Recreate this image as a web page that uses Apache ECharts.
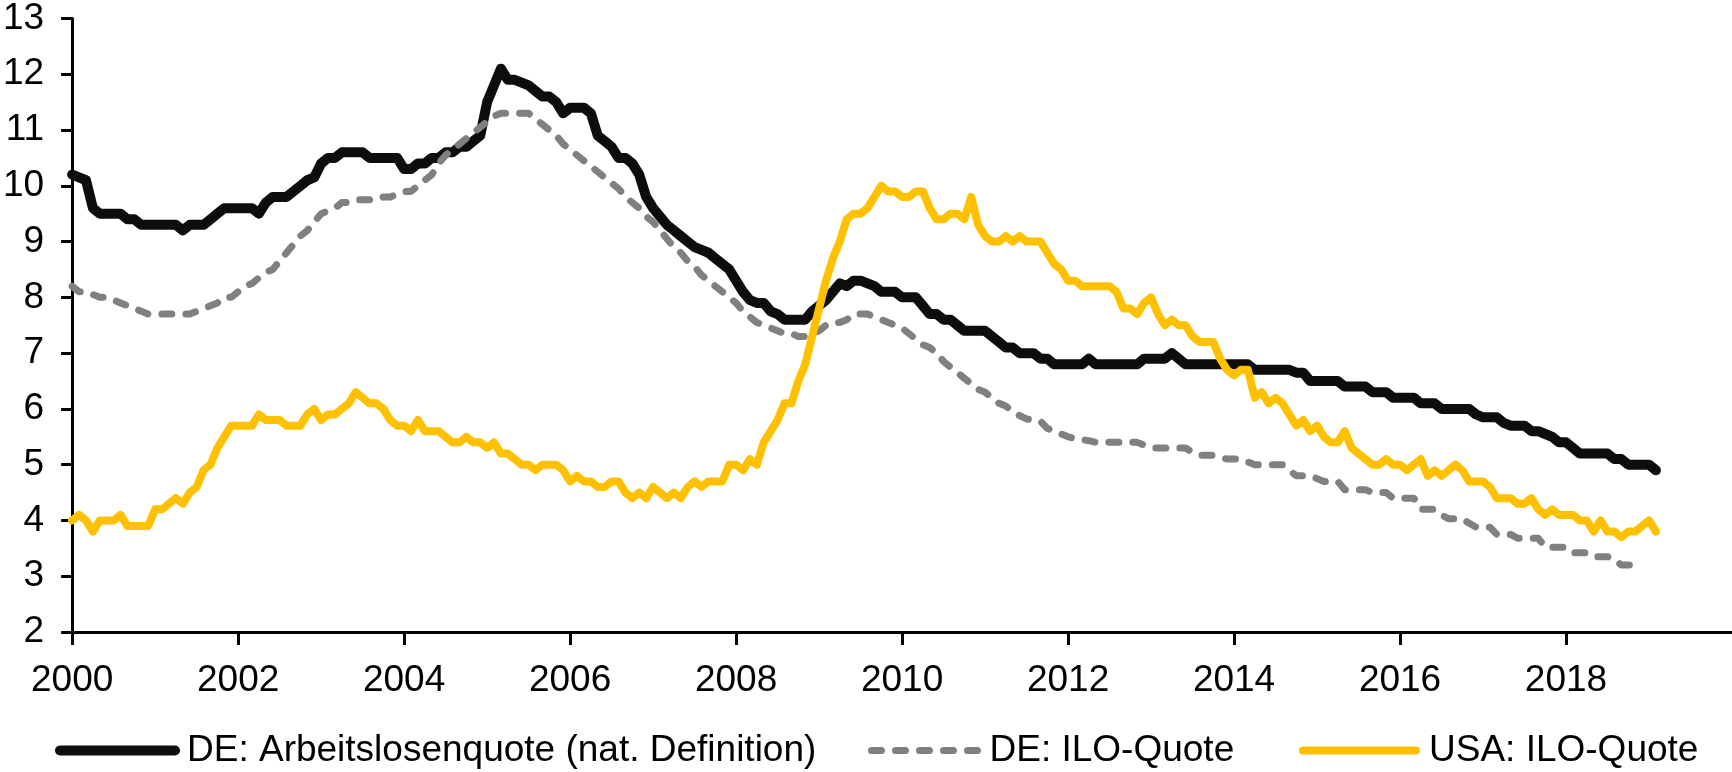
<!DOCTYPE html>
<html>
<head>
<meta charset="utf-8">
<title>Arbeitslosenquote DE / USA</title>
<script src="https://cdn.jsdelivr.net/npm/echarts@6/dist/echarts.min.js"></script>
<style>
  html, body { margin: 0; padding: 0; background: #fff; }
  #chart { width: 1732px; height: 772px; }
</style>
</head>
<body>
<div id="chart"></div>
<script>
// monthly values, starting January 2000
var startYear = 2000;

var deNational = [
  10.2, 10.15, 10.1, 9.6, 9.5, 9.5, 9.5, 9.5, 9.4, 9.4, 9.3, 9.3,
  9.3, 9.3, 9.3, 9.3, 9.2, 9.3, 9.3, 9.3, 9.4, 9.5, 9.6, 9.6,
  9.6, 9.6, 9.6, 9.5, 9.7, 9.8, 9.8, 9.8, 9.9, 10.0, 10.1, 10.15,
  10.4, 10.5, 10.5, 10.6, 10.6, 10.6, 10.6, 10.5, 10.5, 10.5, 10.5, 10.5,
  10.3, 10.3, 10.4, 10.4, 10.5, 10.5, 10.6, 10.6, 10.7, 10.7, 10.8, 10.9,
  11.5, 11.8, 12.1, 11.9, 11.9, 11.85, 11.8, 11.7, 11.6, 11.6, 11.5, 11.3,
  11.4, 11.4, 11.4, 11.3, 10.9, 10.8, 10.7, 10.5, 10.5, 10.4, 10.2, 9.8,
  9.6, 9.45, 9.3, 9.2, 9.1, 9.0, 8.9, 8.85, 8.8, 8.7, 8.6, 8.5,
  8.3, 8.1, 7.95, 7.9, 7.9, 7.75, 7.7, 7.6, 7.6, 7.6, 7.6, 7.75,
  7.85, 7.95, 8.1, 8.25, 8.2, 8.3, 8.3, 8.25, 8.2, 8.1, 8.1, 8.1,
  8.0, 8.0, 8.0, 7.85, 7.7, 7.7, 7.6, 7.6, 7.5, 7.4, 7.4, 7.4,
  7.4, 7.3, 7.2, 7.1, 7.1, 7.0, 7.0, 7.0, 6.9, 6.9, 6.8, 6.8,
  6.8, 6.8, 6.8, 6.9, 6.8, 6.8, 6.8, 6.8, 6.8, 6.8, 6.8, 6.9,
  6.9, 6.9, 6.9, 7.0, 6.9, 6.8, 6.8, 6.8, 6.8, 6.8, 6.8, 6.8,
  6.8, 6.8, 6.8, 6.7, 6.7, 6.7, 6.7, 6.7, 6.7, 6.65, 6.65, 6.5,
  6.5, 6.5, 6.5, 6.5, 6.4, 6.4, 6.4, 6.4, 6.3, 6.3, 6.3, 6.2,
  6.2, 6.2, 6.2, 6.1, 6.1, 6.1, 6.0, 6.0, 6.0, 6.0, 6.0, 5.9,
  5.85, 5.85, 5.85, 5.75, 5.7, 5.7, 5.7, 5.6, 5.6, 5.55, 5.5, 5.4,
  5.4, 5.3, 5.2, 5.2, 5.2, 5.2, 5.2, 5.1, 5.1, 5.0, 5.0, 5.0,
  5.0, 4.9
];

var deIlo = [
  8.2, 8.1, 8.1, 8.05, 8.0, 8.0, 7.95, 7.9, 7.85, 7.8, 7.75, 7.7,
  7.7, 7.7, 7.7, 7.7, 7.7, 7.7, 7.75, 7.8, 7.85, 7.9, 8.0, 8.0,
  8.1, 8.2, 8.25, 8.35, 8.45, 8.5, 8.65, 8.8, 8.95, 9.1, 9.2, 9.35,
  9.5, 9.55, 9.6, 9.7, 9.7, 9.75, 9.75, 9.75, 9.75, 9.8, 9.8, 9.85,
  9.9, 9.9, 10.0, 10.1, 10.2, 10.4, 10.55, 10.65, 10.75, 10.85, 10.95, 11.05,
  11.15, 11.25, 11.3, 11.3, 11.3, 11.3, 11.3, 11.2, 11.1, 11.0, 10.9, 10.75,
  10.65, 10.55, 10.45, 10.35, 10.25, 10.15, 10.05, 9.95, 9.8, 9.7, 9.6, 9.45,
  9.35, 9.2, 9.05, 8.9, 8.8, 8.65, 8.55, 8.4, 8.3, 8.2, 8.1, 8.0,
  7.9, 7.75, 7.65, 7.55, 7.5, 7.45, 7.4, 7.35, 7.35, 7.3, 7.3, 7.35,
  7.4, 7.5, 7.55, 7.55, 7.6, 7.7, 7.7, 7.7, 7.65, 7.6, 7.55, 7.5,
  7.45, 7.35, 7.25, 7.15, 7.1, 7.0, 6.85, 6.75, 6.65, 6.55, 6.45, 6.35,
  6.3, 6.2, 6.1, 6.05, 5.95, 5.88, 5.82, 5.8, 5.78, 5.65, 5.6, 5.55,
  5.5, 5.47, 5.45, 5.43, 5.4, 5.4, 5.4, 5.4, 5.4, 5.4, 5.4, 5.35,
  5.3, 5.3, 5.3, 5.3, 5.3, 5.3, 5.22, 5.17, 5.17, 5.17, 5.13, 5.1,
  5.1, 5.1, 5.05, 5.0, 5.0, 5.0, 5.0, 5.0, 4.9, 4.8, 4.8, 4.8,
  4.75, 4.7, 4.7, 4.7, 4.55, 4.55, 4.55, 4.55, 4.5, 4.5, 4.5, 4.4,
  4.4, 4.4, 4.4, 4.2, 4.2, 4.2, 4.1, 4.03, 4.03, 4.03, 3.95, 3.88,
  3.88, 3.88, 3.75, 3.75, 3.75, 3.68, 3.68, 3.68, 3.68, 3.52, 3.52, 3.52,
  3.52, 3.42, 3.42, 3.42, 3.35, 3.35, 3.35, 3.3, 3.2, 3.2, 3.2, 3.15
];

var usaIlo = [
  4.0, 4.1, 4.0, 3.8, 4.0, 4.0, 4.0, 4.1, 3.9, 3.9, 3.9, 3.9,
  4.2, 4.2, 4.3, 4.4, 4.3, 4.5, 4.6, 4.9, 5.0, 5.3, 5.5, 5.7,
  5.7, 5.7, 5.7, 5.9, 5.8, 5.8, 5.8, 5.7, 5.7, 5.7, 5.9, 6.0,
  5.8, 5.9, 5.9, 6.0, 6.1, 6.3, 6.2, 6.1, 6.1, 6.0, 5.8, 5.7,
  5.7, 5.6, 5.8, 5.6, 5.6, 5.6, 5.5, 5.4, 5.4, 5.5, 5.4, 5.4,
  5.3, 5.4, 5.2, 5.2, 5.1, 5.0, 5.0, 4.9, 5.0, 5.0, 5.0, 4.9,
  4.7, 4.8, 4.7, 4.7, 4.6, 4.6, 4.7, 4.7, 4.5, 4.4, 4.5, 4.4,
  4.6, 4.5, 4.4, 4.5, 4.4, 4.6, 4.7, 4.6, 4.7, 4.7, 4.7, 5.0,
  5.0, 4.9, 5.1, 5.0, 5.4, 5.6, 5.8, 6.1, 6.1, 6.5, 6.8, 7.3,
  7.8, 8.3, 8.7, 9.0, 9.4, 9.5, 9.5, 9.6, 9.8, 10.0, 9.9, 9.9,
  9.8, 9.8, 9.9, 9.9, 9.6, 9.4, 9.4, 9.5, 9.5, 9.4, 9.8, 9.3,
  9.1, 9.0, 9.0, 9.1, 9.0, 9.1, 9.0, 9.0, 9.0, 8.8, 8.6, 8.5,
  8.3, 8.3, 8.2, 8.2, 8.2, 8.2, 8.2, 8.1, 7.8, 7.8, 7.7, 7.9,
  8.0, 7.7, 7.5, 7.6, 7.5, 7.5, 7.3, 7.2, 7.2, 7.2, 6.9, 6.7,
  6.6, 6.7, 6.7, 6.2, 6.3, 6.1, 6.2, 6.1, 5.9, 5.7, 5.8, 5.6,
  5.7, 5.5, 5.4, 5.4, 5.6, 5.3, 5.2, 5.1, 5.0, 5.0, 5.1, 5.0,
  5.0, 4.9, 5.0, 5.1, 4.8, 4.9, 4.8, 4.9, 5.0, 4.9, 4.7, 4.7,
  4.7, 4.6, 4.4, 4.4, 4.4, 4.3, 4.3, 4.4, 4.2, 4.1, 4.2, 4.1,
  4.1, 4.1, 4.0, 4.0, 3.8, 4.0, 3.8, 3.8, 3.7, 3.8, 3.8, 3.9,
  4.0, 3.8
];

var seriesNames = [
  'DE: Arbeitslosenquote (nat. Definition)',
  'DE: ILO-Quote',
  'USA: ILO-Quote'
];

var fontFamily = '"Liberation Sans", Arial, sans-serif';

function toPairs(values) {
  return values.map(function (v, i) {
    return [startYear + i / 12, v];
  });
}

function legendFor(name, left, width, lineStyle, textPad) {
  return {
    data: [name],
    left: left,
    top: 732,
    padding: 0,
    itemWidth: width,
    itemHeight: 14,
    lineStyle: lineStyle,
    itemStyle: { opacity: 0 },
    textStyle: {
      fontFamily: fontFamily,
      fontSize: 37,
      color: '#000',
      padding: [0, 0, 0, textPad]
    }
  };
}

var chart = echarts.init(document.getElementById('chart'));

chart.setOption({
  animation: false,
  backgroundColor: '#fff',
  grid: {
    left: 72,
    top: 16,
    width: 1664,
    height: 616,
    containLabel: false
  },
  legend: [
    legendFor(seriesNames[0], 55, 115, { width: 10, color: '#0d0d0d', cap: 'round' }, 7),
    legendFor(seriesNames[1], 868, 108, { width: 7, color: '#808080', type: [10, 14], cap: 'round' }, 5),
    legendFor(seriesNames[2], 1299, 113, { width: 8, color: '#ffc000', cap: 'round' }, 8)
  ],
  xAxis: {
    type: 'value',
    min: 2000,
    max: 2020,
    interval: 2,
    splitLine: { show: false },
    axisLine: { onZero: false, lineStyle: { color: '#000', width: 3 } },
    axisTick: { inside: false, length: 13, lineStyle: { color: '#000', width: 3 } },
    axisLabel: {
      showMaxLabel: false,
      margin: 30,
      color: '#000',
      fontFamily: fontFamily,
      fontSize: 37,
      formatter: function (v) { return String(Math.round(v)); }
    }
  },
  yAxis: {
    type: 'value',
    min: 2,
    max: 13,
    interval: 1,
    splitLine: { show: false },
    axisLine: { show: true, lineStyle: { color: '#000', width: 3 } },
    axisTick: { show: true, inside: false, length: 11, lineStyle: { color: '#000', width: 3 } },
    axisLabel: {
      margin: 28,
      color: '#000',
      fontFamily: fontFamily,
      fontSize: 37
    }
  },
  series: [
    {
      name: seriesNames[0],
      type: 'line',
      symbol: 'none',
      data: toPairs(deNational),
      lineStyle: { color: '#0d0d0d', width: 10, cap: 'round', join: 'round' },
      itemStyle: { color: '#0d0d0d' },
      z: 2
    },
    {
      name: seriesNames[1],
      type: 'line',
      symbol: 'none',
      data: toPairs(deIlo),
      lineStyle: { color: '#808080', width: 7, type: [10, 14], cap: 'round', join: 'round' },
      itemStyle: { color: '#808080' },
      z: 3
    },
    {
      name: seriesNames[2],
      type: 'line',
      symbol: 'none',
      data: toPairs(usaIlo),
      lineStyle: { color: '#ffc000', width: 8, cap: 'round', join: 'round' },
      itemStyle: { color: '#ffc000' },
      z: 4
    }
  ]
});
</script>
</body>
</html>
